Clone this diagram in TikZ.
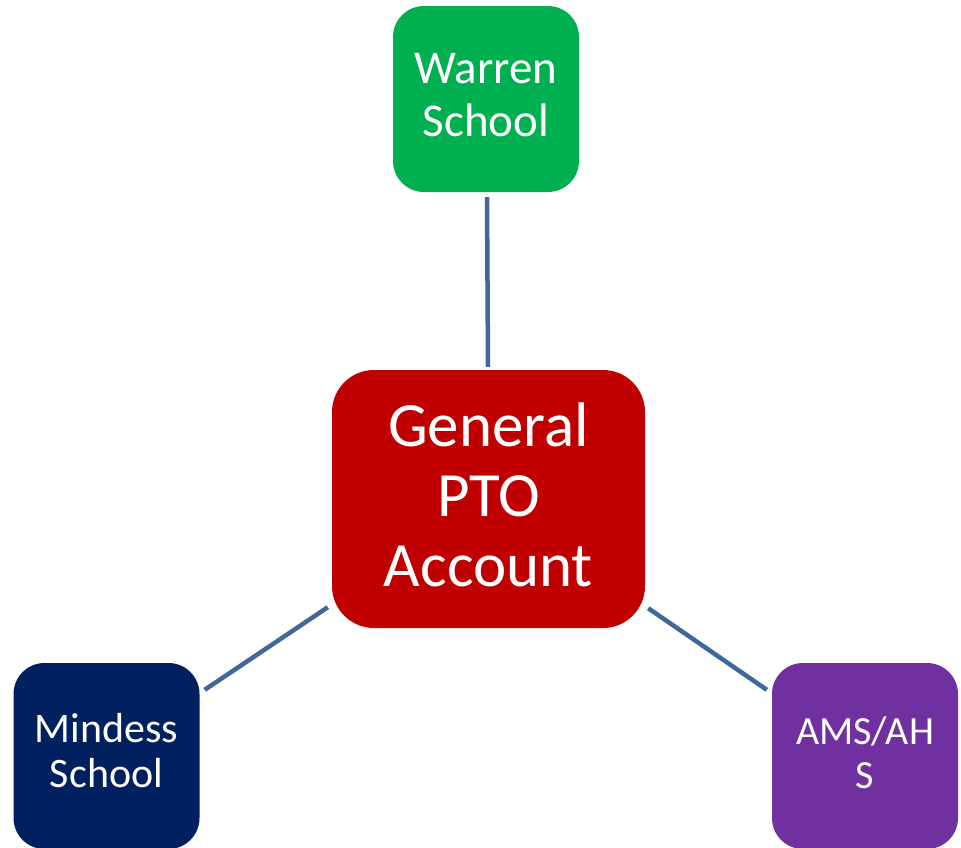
\documentclass[tikz,border=0pt]{standalone}
\usepackage{fontspec}
\setmainfont{Carlito}
\usetikzlibrary{calc}
\definecolor{cgreen}{HTML}{00B050}
\definecolor{cred}{HTML}{C00000}
\definecolor{cnavy}{HTML}{002060}
\definecolor{cpurple}{HTML}{7030A0}
\definecolor{cline}{RGB}{65,104,154}
\tikzset{
  box/.style={rectangle, inner sep=0pt, minimum width=186pt, minimum height=186pt, rounded corners=31pt},
  txt/.style={inner sep=0pt, text=white, align=center},
  conn/.style={draw=cline, line width=4.5pt}
}
\begin{document}
\begin{tikzpicture}[x=1pt,y=-1pt]
\useasboundingbox (0,0) rectangle (961,847);
\node[box, fill=cgreen, label={[txt, yshift=4pt, font=\fontsize{47}{53}\selectfont]center:Warren\\School}] (warren) at (486,99) {};
\node[box, fill=cred, minimum width=313pt, minimum height=258pt, rounded corners=42pt, label={[txt, yshift=4pt, font=\fontsize{63}{70}\selectfont]center:General\\PTO\\Account}] (pto) at (488.5,499) {};
\node[box, fill=cnavy, label={[txt, yshift=5pt, font=\fontsize{42}{45}\selectfont]center:Mindess\\School}] (mindess) at (106.5,756) {};
\node[box, fill=cpurple, label={[txt, yshift=3pt, font=\fontsize{40}{44}\selectfont]center:AMS/AH\\S}] (ams) at (865,756) {};
\draw[conn] ($(warren.south)+(1,5)$) -- ($(pto.north)+(-0.5,-3)$);
\draw[conn] ($(pto.south west)+(-4,-21)$) -- ($(mindess.north east)+(5,27)$);
\draw[conn] ($(pto.south east)+(3,-20)$) -- ($(ams.north west)+(-5,27)$);
\end{tikzpicture}
\end{document}
